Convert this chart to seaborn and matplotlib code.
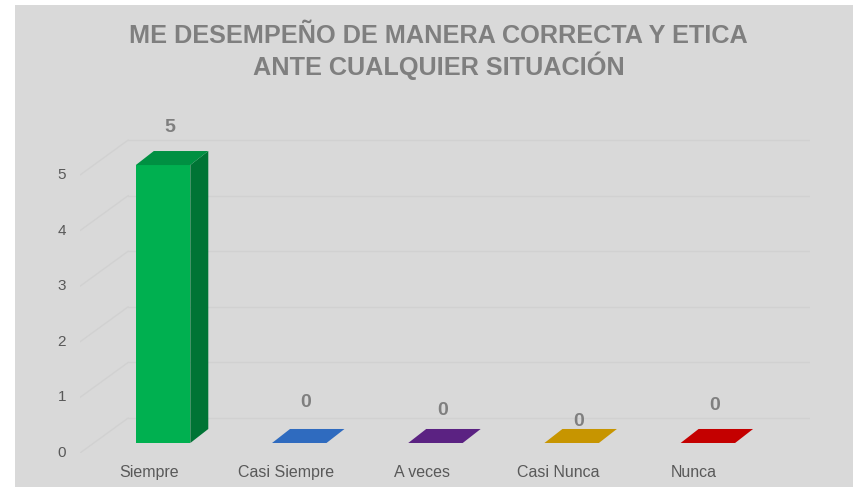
import matplotlib
matplotlib.use("Agg")
import matplotlib.pyplot as plt
from matplotlib.patches import Polygon, Rectangle
import seaborn as sns
import pandas as pd

# ----------------- Data -----------------
title = "ME DESEMPEÑO DE MANERA CORRECTA Y ETICA\nANTE CUALQUIER SITUACIÓN"
categories = ["Siempre", "Casi Siempre", "A veces", "Casi Nunca", "Nunca"]
values = [5, 0, 0, 0, 0]
y_ticks = [0, 1, 2, 3, 4, 5]

# ----------------- Style -----------------
colors = ["#00b050", "#2f6bbf", "#5b2282", "#c79500", "#c40000"]
label_lift = [0.67, 0.72, 0.59, 0.38, 0.68]   # how high each value label sits above its bar
depth_x, depth_y = 0.132, 0.252                # fake 3D depth in data units
bg = "#d9d9d9"


def shade(hex_color, f):
    r, g, b = matplotlib.colors.to_rgb(hex_color)
    return (r * f, g * f, b * f)


sns.set_theme(style="white")
plt.rcParams["font.family"] = ["Liberation Sans", "DejaVu Sans"]

df = pd.DataFrame({"categoria": categories, "valor": values})

fig = plt.figure(figsize=(8.54, 4.87), dpi=100, facecolor="white")
fig.add_artist(Rectangle((15 / 854, 0), 1, 482 / 487, transform=fig.transFigure,
                         facecolor=bg, edgecolor="none", zorder=-10))
ax = fig.add_axes([80 / 854, 34 / 487, 730 / 854, 333 / 487])

sns.barplot(data=df, x="categoria", y="valor", hue="categoria", palette=colors,
            saturation=1, width=0.4, linewidth=0, legend=False, ax=ax, zorder=3)

ax.set_xlim(-0.61, 4.75)
ax.set_ylim(-0.18, 5.81)
ax.set_axis_off()

# back wall gridlines with the diagonal on the left wall
for v in y_ticks:
    ax.plot([-0.61, -0.256], [v - 0.18, v + 0.45], color="#d1d1d1", lw=1, zorder=1)
    ax.plot([-0.256, 4.74], [v + 0.45, v + 0.45], color="#d1d1d1", lw=1, zorder=1)
    ax.text(-0.0247, v - 0.18, str(v), transform=ax.get_yaxis_transform(),
            ha="center", va="center", fontsize=11, color="#595959")

# 3D faces on top of seaborn's bars
for i, patch in enumerate(ax.patches):
    x0, w, h = patch.get_x(), patch.get_width(), patch.get_height()
    col = colors[i]
    top = [(x0, h), (x0 + w, h), (x0 + w + depth_x, h + depth_y), (x0 + depth_x, h + depth_y)]
    if h > 0:
        side = [(x0 + w, 0), (x0 + w + depth_x, depth_y), (x0 + w + depth_x, h + depth_y), (x0 + w, h)]
        ax.add_patch(Polygon(side, closed=True, facecolor=shade(col, 0.66), edgecolor="none", zorder=3))
        ax.add_patch(Polygon(top, closed=True, facecolor=shade(col, 0.82), edgecolor="none", zorder=3))
    else:
        ax.add_patch(Polygon(top, closed=True, facecolor=col, edgecolor="none", zorder=3))
    ax.text(x0 + w / 2 + 0.05, h + label_lift[i], str(values[i]), ha="center", va="center",
            fontsize=14, fontweight="bold", color="#7f7f7f", zorder=5)

for i, cat in enumerate(categories):
    ax.text(i - 0.1, -0.06, cat, transform=ax.get_xaxis_transform(),
            ha="center", va="center", fontsize=11.5, color="#595959")

fig.text(438.5 / 854, 1 - 52 / 487, title, ha="center", va="center", fontsize=18.2,
         fontweight="bold", color="#7f7f7f", linespacing=1.11)

fig.savefig("out.png", dpi=100, facecolor="white")
